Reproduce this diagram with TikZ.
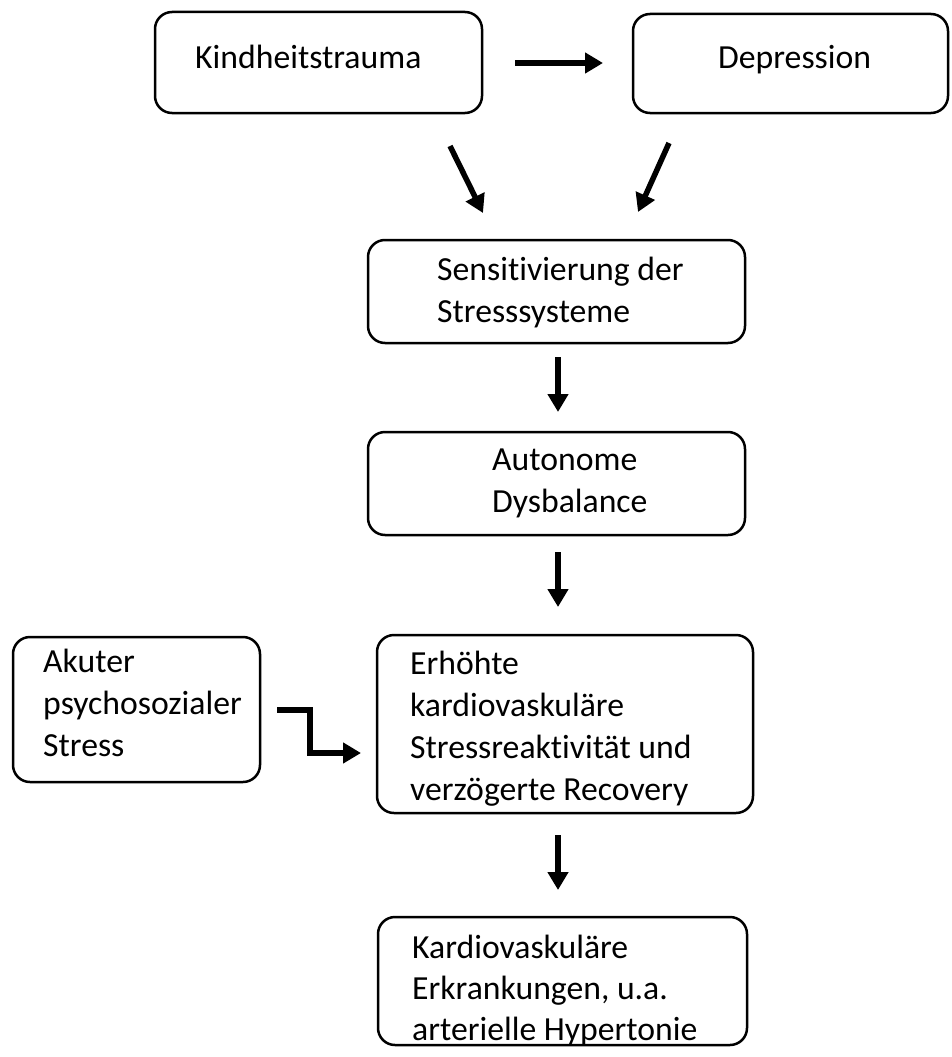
\documentclass[tikz,border=0pt]{standalone}
\usepackage{fontspec}
\setmainfont{Carlito}[Ligatures=CommonOff]
\usetikzlibrary{arrows.meta}
\begin{document}
\begin{tikzpicture}[x=1pt,y=-1pt,
  box/.style={draw, line width=2.5pt, rounded corners=17pt, inner sep=0pt},
  lbl/.style={anchor=base west, inner sep=0pt, font=\fontsize{33.7}{42}\selectfont},
  arr/.style={line width=5.5pt, -{Triangle[length=18pt,width=20pt]}}]
\useasboundingbox (0,0) rectangle (951,1057);
% boxes
\node[box, minimum width=327pt, minimum height=101pt] (kind) at (318.5,62.5) {};
\node[box, minimum width=315pt, minimum height=99pt] (dep) at (790.5,63.5) {};
\node[box, minimum width=377pt, minimum height=103pt] (sens) at (556.5,291.5) {};
\node[box, minimum width=377pt, minimum height=103pt] (auto) at (556.5,483.5) {};
\node[box, minimum width=376pt, minimum height=178pt] (erh) at (565,724) {};
\node[box, minimum width=247pt, minimum height=145pt] (akut) at (136.5,709.5) {};
\node[box, minimum width=369pt, minimum height=128pt] (kard) at (562.5,981) {};
% texts
\node[lbl] (t1) at (195,68) {Kindheitstrauma};
\node[lbl] (t2) at (718,68) {Depression};
\node[lbl] (t3a) at (437,280) {Sensitivierung der};
\node[lbl] (t3b) at (437,322) {Stresssysteme};
\node[lbl] (t4a) at (492,470) {Autonome};
\node[lbl] (t4b) at (492,512) {Dysbalance};
\node[lbl] (t5a) at (410,674) {Erhöhte};
\node[lbl] (t5b) at (410,716) {kardiovaskuläre};
\node[lbl] (t5c) at (410,758) {Stressreaktivität und};
\node[lbl] (t5d) at (410,800) {verzögerte Recovery};
\node[lbl] (t6a) at (43,672) {Akuter};
\node[lbl] (t6b) at (43,714) {psychosozialer};
\node[lbl] (t6c) at (43,756) {Stress};
\node[lbl] (t7a) at (412,958) {Kardiovaskuläre};
\node[lbl] (t7b) at (412,999) {Erkrankungen, u.a.};
\node[lbl] (t7c) at (412,1040) {arterielle Hypertonie};
% arrow end points
\coordinate (a1s) at (515,63);
\coordinate (a1e) at (603,63);
\coordinate (a2s) at (450,146);
\coordinate (a2e) at (483,213);
\coordinate (a3s) at (669,143);
\coordinate (a3e) at (638,212);
\coordinate (a4s) at (558,357);
\coordinate (a4e) at (558,412);
\coordinate (a5s) at (558,552);
\coordinate (a5e) at (558,607);
\coordinate (a6s) at (558,835);
\coordinate (a6e) at (558,890);
\coordinate (a7s) at (277,710);
\coordinate (a7e) at (361,753);
% arrows
\draw[arr] (a1s) -- (a1e);
\draw[arr] (a2s) -- (a2e);
\draw[arr] (a3s) -- (a3e);
\draw[arr] (a4s) -- (a4e);
\draw[arr] (a5s) -- (a5e);
\draw[arr] (a6s) -- (a6e);
\draw[arr, line join=miter] (a7s) -- (310,710) -- (310,753) -- (a7e);
\end{tikzpicture}
\end{document}
